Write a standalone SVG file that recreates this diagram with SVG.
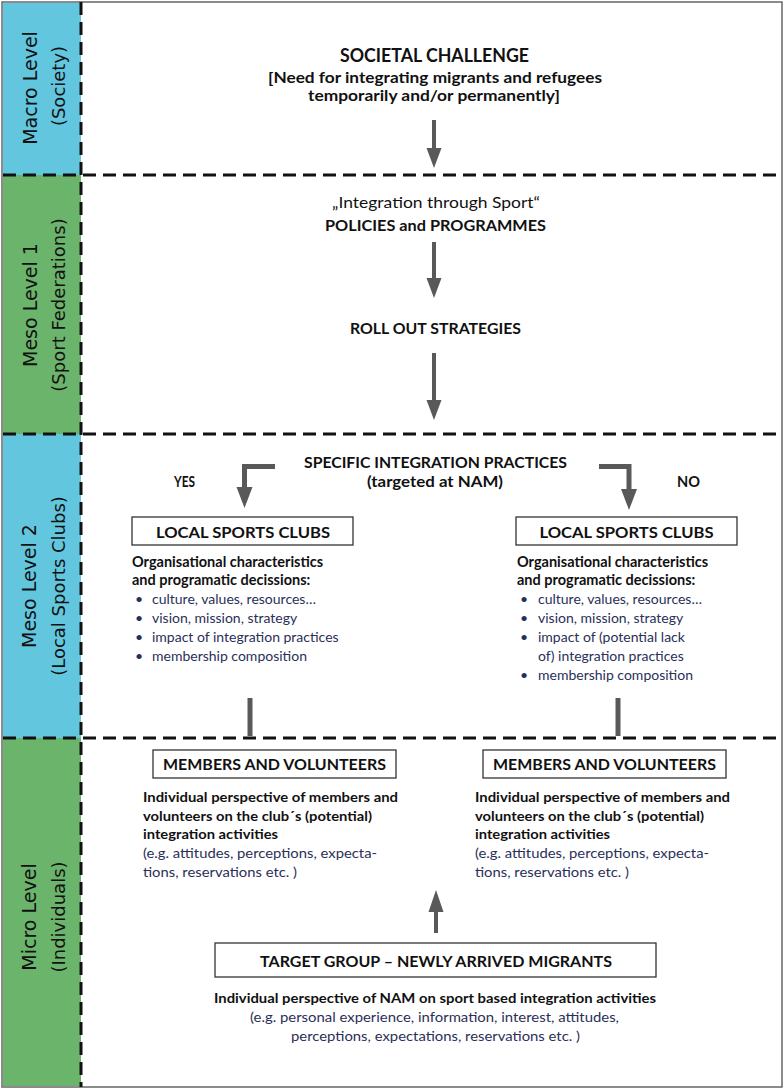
<svg xmlns="http://www.w3.org/2000/svg" width="784" height="1089" viewBox="0 0 784 1089">
<style>
.side{font-family:"DejaVu Sans","Verdana",sans-serif;fill:#111;text-anchor:middle}
.s1{font-size:19px}
.s2{font-size:18px}
.t{font-family:Lato,"Liberation Sans",sans-serif;fill:#111}
.b{font-weight:bold}
.c{text-anchor:middle}
.body{fill:#2a2f58}
.dash{stroke:#111;stroke-width:3;stroke-dasharray:13 7;fill:none}
.box{fill:#fff;stroke:#333;stroke-width:1.3}
.arr{fill:#595959;stroke:none}
.ln{stroke:#595959;fill:none}
</style>
<rect x="2" y="2" width="780" height="1085" fill="#fff" stroke="#666" stroke-width="1.5"/>
<g id="sidebar">
<rect x="3" y="3" width="78" height="172" fill="#62C6DF"/>
<rect x="3" y="175" width="78" height="259" fill="#6BB46C"/>
<rect x="3" y="434" width="78" height="304" fill="#62C6DF"/>
<rect x="3" y="738" width="78" height="348" fill="#6BB46C"/>
</g>
<g id="level-macro">
<text class="side s1" transform="translate(37,88) rotate(-90)">Macro Level</text>
<text class="side s2" transform="translate(65,86) rotate(-90)">(Society)</text>
</g>
<g id="level-meso1">
<text class="side s1" transform="translate(37,305) rotate(-90)">Meso Level 1</text>
<text class="side s2" transform="translate(65,305) rotate(-90)">(Sport Federations)</text>
</g>
<g id="level-meso2">
<text class="side s1" transform="translate(36,586) rotate(-90)">Meso Level 2</text>
<text class="side s2" transform="translate(65,586) rotate(-90)">(Local Sports Clubs)</text>
</g>
<g id="level-micro">
<text class="side s1" transform="translate(36,917) rotate(-90)">Micro Level</text>
<text class="side s2" transform="translate(65,917) rotate(-90)">(Individuals)</text>
</g>
<g id="dividers">
<line class="dash" x1="3" y1="175" x2="782" y2="175"/>
<line class="dash" x1="3" y1="434" x2="782" y2="434"/>
<line class="dash" x1="3" y1="738" x2="782" y2="738"/>
<line class="dash" x1="81" y1="2" x2="81" y2="1087"/>
</g>
<g id="connectors">
<path class="arr" d="M432,120 H436 V148 H441.5 L434,168 L426.5,148 H432 Z"/>
<path class="arr" d="M432,242 H436 V278 H441.5 L434,298 L426.5,278 H432 Z"/>
<path class="arr" d="M432,353 H436 V400 H441.5 L434,420 L426.5,400 H432 Z"/>
<path class="ln" stroke-width="5" d="M275,466.5 H244.5 V490"/>
<path class="arr" d="M236.5,487 H252.5 L244.5,508 Z"/>
<path class="ln" stroke-width="5" d="M599,466.5 H629 V490"/>
<path class="arr" d="M621,489 H637 L629,510 Z"/>
<line class="ln" stroke-width="5" x1="250" y1="698" x2="250" y2="736"/>
<line class="ln" stroke-width="5" x1="618" y1="698" x2="618" y2="736"/>
<path class="arr" d="M434,933 V912 H428.5 L436,890 L443.5,912 H438 V933 Z"/>
</g>
<g id="societal-challenge">
<text class="t b c" x="434.5" y="62" font-size="19" textLength="189" lengthAdjust="spacingAndGlyphs">SOCIETAL CHALLENGE</text>
<text class="t b c" x="435" y="83" font-size="16" textLength="334" lengthAdjust="spacingAndGlyphs">[Need for integrating migrants and refugees</text>
<text class="t b c" x="434" y="101" font-size="16" textLength="252" lengthAdjust="spacingAndGlyphs">temporarily and/or permanently]</text>
</g>
<g id="policies">
<text class="t c" x="436" y="208" font-size="16" textLength="208" lengthAdjust="spacingAndGlyphs">„Integration through Sport“</text>
<text class="t b c" x="435.5" y="231" font-size="16" textLength="221" lengthAdjust="spacingAndGlyphs">POLICIES and PROGRAMMES</text>
</g>
<g id="rollout">
<text class="t b c" x="435.5" y="334" font-size="16" textLength="171" lengthAdjust="spacingAndGlyphs">ROLL OUT STRATEGIES</text>
</g>
<g id="practices">
<text class="t b c" x="435.5" y="468" font-size="16" textLength="263" lengthAdjust="spacingAndGlyphs">SPECIFIC INTEGRATION PRACTICES</text>
<text class="t b c" x="435" y="487" font-size="16" textLength="136" lengthAdjust="spacingAndGlyphs">(targeted at NAM)</text>
<text class="t b" x="174" y="487" font-size="15" textLength="21" lengthAdjust="spacingAndGlyphs">YES</text>
<text class="t b" x="677" y="487" font-size="15" textLength="23" lengthAdjust="spacingAndGlyphs">NO</text>
</g>
<g id="clubs-yes">
<rect class="box" x="132" y="517" width="221" height="28"/>
<text class="t b c" x="243" y="537.5" font-size="16" textLength="174" lengthAdjust="spacingAndGlyphs">LOCAL SPORTS CLUBS</text>
<text class="t b" x="132" y="567" font-size="14.5">Organisational characteristics</text>
<text class="t b" x="132" y="585" font-size="14.5">and programatic decissions:</text>
<text class="t body" x="135" y="604" font-size="14">•</text>
<text class="t body" x="152" y="604" font-size="14">culture, values, resources…</text>
<text class="t body" x="135" y="623" font-size="14">•</text>
<text class="t body" x="152" y="623" font-size="14">vision, mission, strategy</text>
<text class="t body" x="135" y="642" font-size="14">•</text>
<text class="t body" x="152" y="642" font-size="14">impact of integration practices</text>
<text class="t body" x="135" y="661" font-size="14">•</text>
<text class="t body" x="152" y="661" font-size="14">membership composition</text>
</g>
<g id="clubs-no">
<rect class="box" x="516" y="517" width="221" height="28"/>
<text class="t b c" x="626.5" y="537.5" font-size="16" textLength="174" lengthAdjust="spacingAndGlyphs">LOCAL SPORTS CLUBS</text>
<text class="t b" x="517" y="567" font-size="14.5">Organisational characteristics</text>
<text class="t b" x="517" y="585" font-size="14.5">and programatic decissions:</text>
<text class="t body" x="520" y="604" font-size="14">•</text>
<text class="t body" x="538" y="604" font-size="14">culture, values, resources…</text>
<text class="t body" x="520" y="623" font-size="14">•</text>
<text class="t body" x="538" y="623" font-size="14">vision, mission, strategy</text>
<text class="t body" x="520" y="642" font-size="14">•</text>
<text class="t body" x="538" y="642" font-size="14">impact of (potential lack</text>
<text class="t body" x="538" y="661" font-size="14">of) integration practices</text>
<text class="t body" x="520" y="680" font-size="14">•</text>
<text class="t body" x="538" y="680" font-size="14">membership composition</text>
</g>
<g id="members-yes">
<rect class="box" x="153" y="750" width="243" height="28"/>
<text class="t b c" x="274.5" y="770" font-size="16" textLength="223" lengthAdjust="spacingAndGlyphs">MEMBERS AND VOLUNTEERS</text>
<text class="t b" x="143" y="802" font-size="14" textLength="255" lengthAdjust="spacingAndGlyphs">Individual perspective of members and</text>
<text class="t b" x="143" y="821" font-size="14" textLength="229" lengthAdjust="spacingAndGlyphs">volunteers on the club´s (potential)</text>
<text class="t b" x="143" y="839" font-size="14" textLength="135" lengthAdjust="spacingAndGlyphs">integration activities</text>
<text class="t body" x="143" y="858" font-size="14" textLength="234" lengthAdjust="spacingAndGlyphs">(e.g. attitudes, perceptions, expecta-</text>
<text class="t body" x="143" y="877" font-size="14" textLength="154" lengthAdjust="spacingAndGlyphs">tions, reservations etc. )</text>
</g>
<g id="members-no">
<rect class="box" x="483" y="750" width="243" height="28"/>
<text class="t b c" x="604.5" y="770" font-size="16" textLength="223" lengthAdjust="spacingAndGlyphs">MEMBERS AND VOLUNTEERS</text>
<text class="t b" x="475" y="802" font-size="14" textLength="255" lengthAdjust="spacingAndGlyphs">Individual perspective of members and</text>
<text class="t b" x="475" y="821" font-size="14" textLength="229" lengthAdjust="spacingAndGlyphs">volunteers on the club´s (potential)</text>
<text class="t b" x="475" y="839" font-size="14" textLength="135" lengthAdjust="spacingAndGlyphs">integration activities</text>
<text class="t body" x="475" y="858" font-size="14" textLength="234" lengthAdjust="spacingAndGlyphs">(e.g. attitudes, perceptions, expecta-</text>
<text class="t body" x="475" y="877" font-size="14" textLength="154" lengthAdjust="spacingAndGlyphs">tions, reservations etc. )</text>
</g>
<g id="target-group">
<rect class="box" x="215" y="943" width="441" height="34"/>
<text class="t b c" x="436" y="967" font-size="16" textLength="352" lengthAdjust="spacingAndGlyphs">TARGET GROUP – NEWLY ARRIVED MIGRANTS</text>
<text class="t b c" x="435" y="1003" font-size="14" textLength="442" lengthAdjust="spacingAndGlyphs">Individual perspective of NAM on sport based  integration activities</text>
<text class="t body c" x="434.5" y="1022" font-size="14" textLength="369" lengthAdjust="spacingAndGlyphs">(e.g. personal experience, information, interest, attitudes,</text>
<text class="t body c" x="435.5" y="1041" font-size="14" textLength="289" lengthAdjust="spacingAndGlyphs">perceptions, expectations, reservations etc. )</text>
</g>
</svg>
